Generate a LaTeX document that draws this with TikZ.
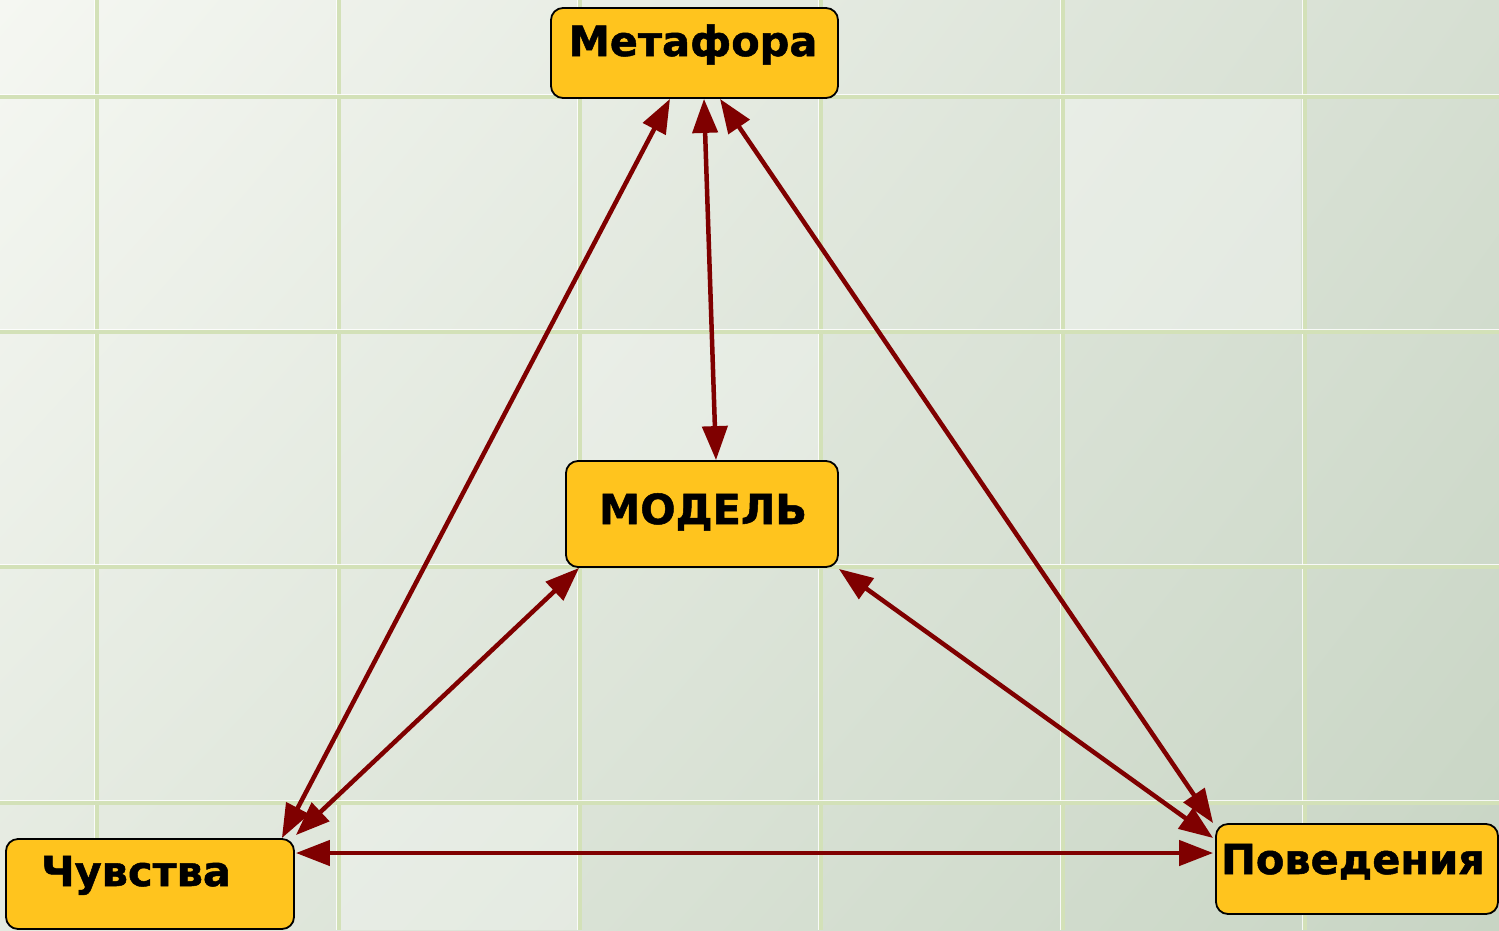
\documentclass[tikz,border=0pt]{standalone}
\usepackage{fontspec}
\setmainfont{DejaVu Sans}
\newfontfamily\heavyfont[FakeBold=1.2]{DejaVu Sans Bold}
\usetikzlibrary{arrows.meta,shadings}
\definecolor{boxfill}{HTML}{FFC41E}
\definecolor{arrowred}{HTML}{7F0000}
\definecolor{gridgreen}{HTML}{D3E1B8}
\definecolor{bgul}{RGB}{245,247,242}
\definecolor{bgur}{RGB}{214,223,210}
\definecolor{bgll}{RGB}{228,234,224}
\definecolor{bglr}{RGB}{200,213,196}
\tikzset{
  box/.style={draw=black, line width=1.8pt, fill=boxfill, rounded corners=12pt, inner sep=0pt},
  boxtext/.style={anchor=base, inner sep=0pt, font=\fontsize{41.5}{50}\selectfont\heavyfont},
  conn/.style={draw=arrowred, line width=4.5pt, {Triangle[length=34pt,width=25pt]}-{Triangle[length=34pt,width=25pt]}, shorten <=0pt, shorten >=0pt},
}
\begin{document}
\begin{tikzpicture}[x=1pt,y=-1pt]
\useasboundingbox (0,0) rectangle (1499,930);
% background
\shade[upper left=bgul, upper right=bgur, lower left=bgll, lower right=bglr]
  (0,0) rectangle (1499,930);
% lighter tiles
\fill[white, opacity=0.35] (1065,99) rectangle (1301,329);
\fill[white, opacity=0.3] (341,805) rectangle (578,930);
\fill[white, opacity=0.25] (582,334) rectangle (819,565);
% grid
\foreach \x in {97,339,580,821,1063,1305} {
  \draw[gridgreen, line width=3.5pt] (\x,0) -- (\x,930);
  \draw[white, opacity=0.85, line width=1.2pt] (\x-2.5,0) -- (\x-2.5,930);
}
\foreach \y in {97,332,567,803} {
  \draw[gridgreen, line width=3.5pt] (0,\y) -- (1499,\y);
  \draw[white, opacity=0.85, line width=1.2pt] (0,\y-2.5) -- (1499,\y-2.5);
}
% boxes
\node[box, minimum width=287pt, minimum height=90pt] (meta) at (694.5,53) {};
\node[box, minimum width=272pt, minimum height=106pt] (model) at (702,514) {};
\node[box, minimum width=288pt, minimum height=90pt] (chuv) at (150,884) {};
\node[box, minimum width=282pt, minimum height=90pt] (pov) at (1357,869) {};
% texts
\node[boxtext] (metat) at (693,56) {Метафора};
\node[boxtext] (modelt) at (703,524) {МОДЕЛЬ};
\node[boxtext] (chuvt) at (136,886) {Чувства};
\node[boxtext] (povt) at (1353,874) {Поведения};
% connectors
\draw[conn] ([xshift=-24.5pt]meta.south) -- ([xshift=-13pt]chuv.north east);
\draw[conn] ([xshift=9.5pt]meta.south) -- ([xshift=14pt]model.north);
\draw[conn] ([xshift=25.5pt]meta.south) -- ([xshift=-2pt]pov.north west);
\draw[conn] ([xshift=14pt]model.south west) -- ([xshift=1pt,yshift=3pt]chuv.north east);
\draw[conn] ([yshift=-1pt]model.south east) -- ([xshift=-2pt,yshift=31pt]pov.west);
\draw[conn] ([xshift=1pt,yshift=31pt]chuv.east) -- ([xshift=-2pt,yshift=16pt]pov.west);
\end{tikzpicture}
\end{document}
